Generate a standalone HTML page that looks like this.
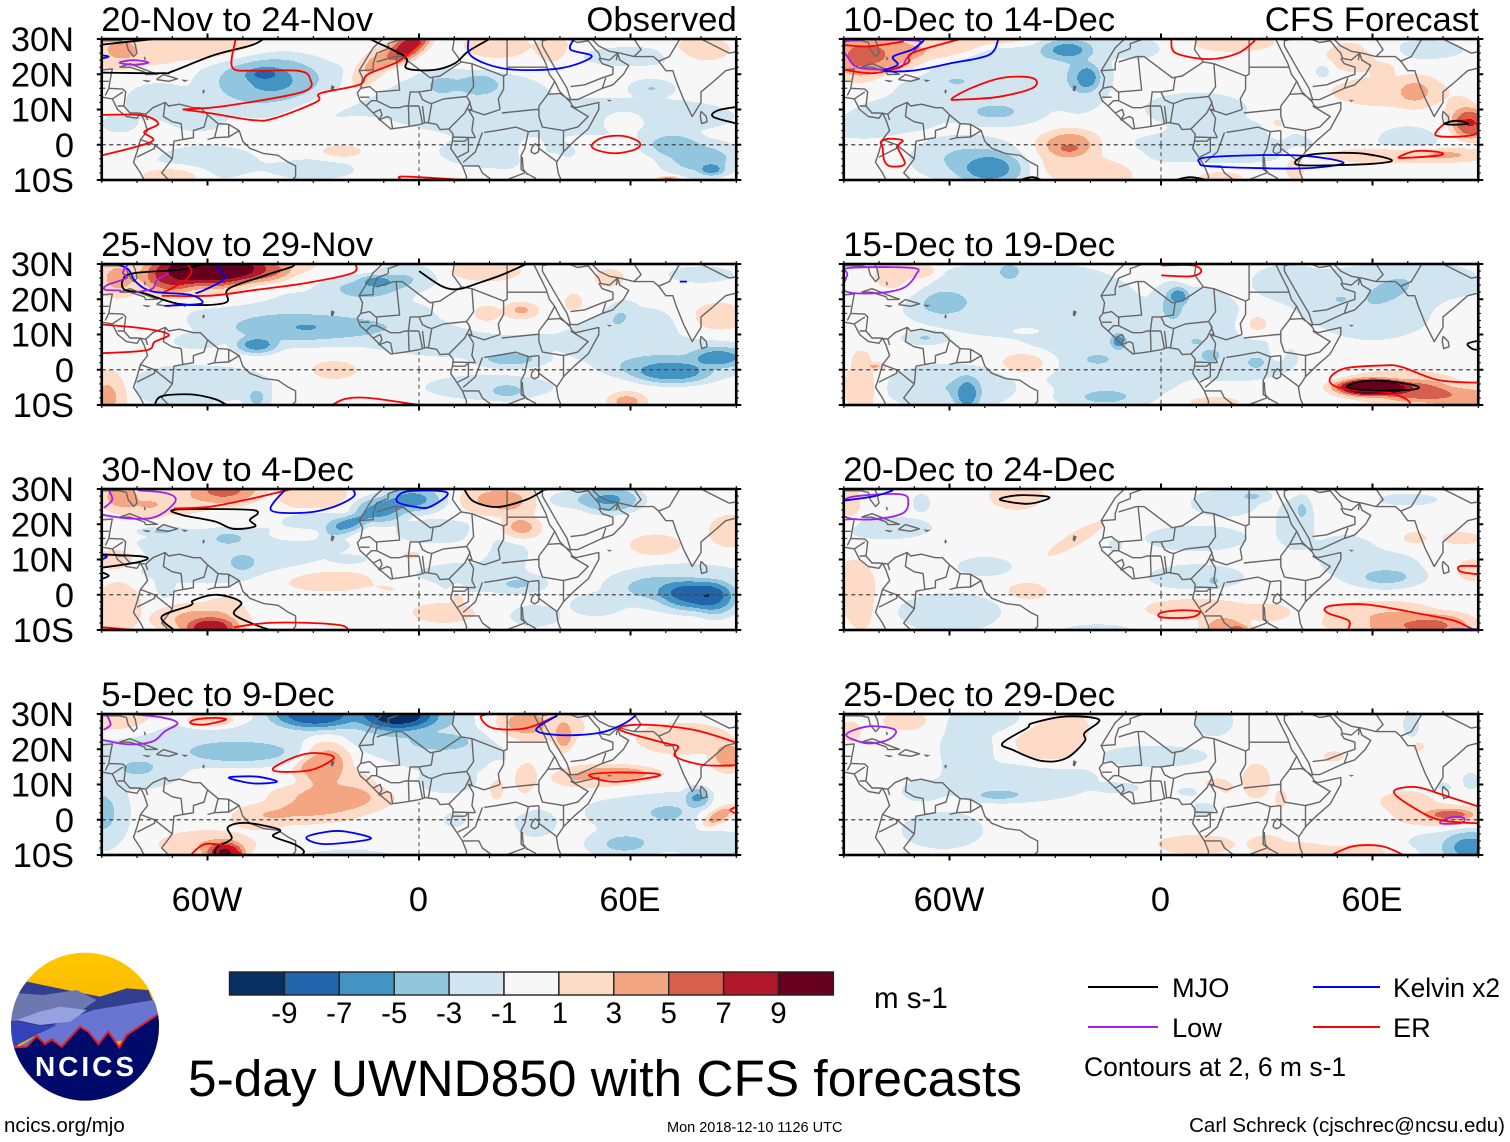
<!DOCTYPE html>
<html lang="en">
<head>
<meta charset="utf-8">
<title>5-day UWND850 with CFS forecasts</title>
<style>
html,body{margin:0;padding:0;background:#fff;width:1510px;height:1142px;overflow:hidden}
svg{display:block}
text{font-family:"Liberation Sans",Arial,sans-serif;fill:#000}
</style>
</head>
<body>
<svg id="chart" xmlns="http://www.w3.org/2000/svg" width="1510" height="1142" viewBox="0 0 1510 1142">
  <defs>
    <clipPath id="logo-clip"><circle cx="255" cy="260" r="222"/></clipPath>
    <linearGradient id="sky" x1="0" y1="0" x2="0" y2="1"><stop offset="0" stop-color="#ffc800"/><stop offset="1" stop-color="#f0a000"/></linearGradient>
  </defs>
  <g id="panels"></g>
  <g id="colorbar"></g>
  <text x="874" y="1008" font-size="29.5">m s-1</text>
  <text x="188" y="1096" font-size="51.4">5-day UWND850 with CFS forecasts</text>
  <g>
    <line x1="1088" x2="1158" y1="987" y2="987" stroke="#000" stroke-width="2"/>
    <text x="1172" y="997" font-size="27.2">MJO</text>
    <line x1="1313" x2="1380" y1="987" y2="987" stroke="#0000ff" stroke-width="2"/>
    <text x="1393" y="997" font-size="26.4">Kelvin x2</text>
    <line x1="1088" x2="1158" y1="1027" y2="1027" stroke="#a020f0" stroke-width="2"/>
    <text x="1172" y="1037" font-size="27.2">Low</text>
    <line x1="1313" x2="1380" y1="1027" y2="1027" stroke="#ff0000" stroke-width="2"/>
    <text x="1393" y="1037" font-size="27.2">ER</text>
    <text x="1084" y="1076" font-size="26.5">Contours at 2, 6 m s-1</text>
  </g>
  <text x="4" y="1132" font-size="20.5">ncics.org/mjo</text>
  <text x="667" y="1132" font-size="14.5">Mon 2018-12-10 1126 UTC</text>
  <text x="1505" y="1132" font-size="20.5" text-anchor="end">Carl Schreck (cjschrec@ncsu.edu)</text>
  <g transform="translate(0,940) scale(.33333)">
    <g clip-path="url(#logo-clip)">
      <rect x="20" y="30" width="470" height="460" fill="url(#sky)"/>
      <polygon points="80,125 200,150 300,170 380,145 445,150 490,260 20,260 50,165" fill="#313f8e"/>
      <polygon points="60,160 130,165 230,150 290,180 240,215 30,245 20,200" fill="#6d78b0"/>
      <polygon points="40,330 170,250 280,210 460,180 490,230 380,300 40,340" fill="#6876d2"/>
      <polygon points="50,240 120,215 180,200 260,210 210,245 120,255" fill="#98a1e0"/>
      <polygon points="20,240 120,258 170,255 60,310 40,325 20,300" fill="#3344bb"/>
      <polygon points="20,322 80,320 110,288 135,312 155,298 185,320 240,260 265,275 295,312 325,275 358,322 380,285 475,222 490,300 490,500 20,500" fill="#000a6b"/>
      <polyline points="40,322 80,320 110,288 135,312 155,298 185,320 240,260 265,275 295,312 325,275 358,322 380,285 475,222" fill="none" stroke="#e0202f" stroke-width="6"/>
    </g>
    <text x="258" y="408" font-size="84" font-weight="bold" text-anchor="middle" letter-spacing="9" style="fill:#fff">NCICS</text>
  </g>
</svg>
<script>
/* ---------- colour scale ---------- */
const levelEdges = [-9,-7,-5,-3,-1,1,3,5,7,9];
const bandColors = ['#053061','#2166ac','#4393c3','#92c5de','#d1e5f0','#f7f7f7','#fddbc7','#f4a582','#d6604d','#b2182b','#67001f'];

/* ---------- axis labels ---------- */
const latTicks = [30,20,10,0,-10];
const latTickLabels = ['30N','20N','10N','0','10S'];
const lonTicks = [-60,0,60];
const lonTickLabels = ['60W','0','60E'];

/* ---------- panels ---------- */
const panelTitles = ['20-Nov to 24-Nov','25-Nov to 29-Nov','30-Nov to 4-Dec','5-Dec to 9-Dec','10-Dec to 14-Dec','15-Dec to 19-Dec','20-Dec to 24-Dec','25-Dec to 29-Dec'];
const panelTags = ['Observed','','','','CFS Forecast','','',''];

/* anomaly centres: lon, lat, lon radius, lat radius, peak m/s, tilt degrees */
const anomalies1 = [
[-3,28,7,3.2,8,35],[-13,22,8,3.5,4.2,40],[-20,14,16,2.5,1.9,20],[-85,27,7,5,3.2],[-60,28,14,4,2.5],[-75,26,10,4,1.8],[22,28,10,4,1.8],[38,27,5,4,2],[80,27,8,3.5,2.2],[58,6.5,5,2.5,2],[-70,-9,8,2.5,3.2],[71,-10,3,1,6],[-22,-2,6,2,1.8],[32,-2,3,3,2.2],[35,-6,5,3,1.8],
[-46,18,11,6,-4.2],[-38,19,10,5,-3.8],[-44,20,4,1.5,-5.5],[72,0,7,3,-3.8],[80,-4,9,4,-3.8],[83,-7,3,1.5,-5.2],[60,8,28,5,-1.7],[66,16,5,2,-3],[17,17,5,2.5,-4.5],[7,17,5,3,-3],[10,15,25,6,-1.7],[20,8,25,5,-1.6],[25,-2,20,5,-1.5],[-60,-5,15,5,-1.5],[-30,-7,12,3,-1.5],[-85,6,4,2,-2.4],[-63,7,7,3,-1.7],[-35,15,30,8,-1.5],[60,25,15,3,-1.4],[-75,12,8,5,-1.6]];
const anomalies2 = [
[-58,29,12,5,12],[-70,27,8,5,8],[-45,28,8,3,6],[-85,26,6,5,3.5],[-40,30,10,3,2.5],[-60,21,14,2.5,1.5],[29,17,4,2,3.2],[19,16,3,2,3],[25,15,12,4,1.4],[19,28,10,3,2],[85,15,8,4,2],[59,-9,5,2.5,3.5],[-24,0,6,2.5,2.3],[-88,-7,5,6,3.5],[54,26,5,3,1.5],[44,19,3,3,1.6],
[-38,12,16,4,-3.5],[-46,7,5,2,-5.6],[-25,12,18,3,-3.5],[-15,23,10,3,-3.5],[-12,25,4,1.5,-5.2],[-4,26,7,3,-3],[-30,15,35,7,-1.6],[68,1,12,3,-4],[72,-1,9,2.5,-5.5],[85,3.5,7,2.5,-5.5],[78,3,18,5,-2],[26,3,8,2,-3.6],[25,-6,5,2,-3.2],[-46,-8,3,3,-3.2],[-60,-4,18,5,-1.6],[57,15,4,3,-2.8,40],[15,8,30,5,-1.4],[80,27,8,2,-2],[-63,8,6,2,-1.7],[20,-5,18,3.5,-1.6],[-70,-5,10,5,-1.5],[50,8,8,6,-1.5],[62,12,12,6,-1.5]];
const anomalies3 = [
[-55,30,9,4,5.5],[-72,27,15,4,2.8],[-85,28,5,4,3.5],[-78,24,6,3,2],[-30,28,10,4,2],[22,27,9,4,3.5],[29,19,5,3,3.5],[28,25,5,5,2],[88,18,5,4,3],[67,14,7,3,2.2],[-35,17,6,1.5,1.5],[-26,4,14,3,2.2],[7,-5,9,3,2],[-6,2,8,2,1.5],[-59,-9.5,7,3,8],[-62,-7,12,4,3.5],[-55,-3,6,3,1.5],[-85,-3,6,8,2.2],[-86,10,6,3,3],[11,-1,2,3,2],[17,15,3,4,1.5],[-2,11,4,2,1.5],
[78,0,8,3.5,-7.5],[84,-1,5,4,-5.5],[68,2,9,3,-3.8],[75,2,20,6,-2],[50,-3,7,3,-1.6],[54,27,7,3,-5.2],[-2,27,7,3,-5.5],[-11,24,6,3,-5.5],[-20,20,6,2,-5.3,20],[-28,21,8,2,-2.8],[-50,9,4,2.5,-3.2],[-54,16,5,2,-3],[-73,18,5,1,-3],[-50,14,30,5,-1.6],[28,3,6,2,-3],[-72,3,2,3,-2.8],[24,12,7,4,-1.5],[5,18,10,3,-2],[44,27,6,2,-2.2],[-20,10,4,1,-2.2],[33,-6,7,3,-1.6],[-60,8,25,5,-1.5],[15,5,20,5,-1.3]];
const anomalies4 = [
[-27,16,7,6,4.5,30],[-31,16,5,2,2.5,25],[-25,6,15,4,3.6],[-35,2,14,3,3],[-22,8,10,7,2.2],[-45,0,8,3,2],[-55,-9.5,5,3,9],[-60,-7,12,3.5,3],[30,27,7,4,4],[41,24,2.5,4,4.5],[35,26,14,7,1.6],[55,13,11,2,4.5],[52,12,16,4,1.8],[45,12,3,1,3.5],[75,23,12,4,2.8],[88,18,5,4,4],[85,1,5,2,5,30],[85,1,8,4,1.5],[-85,28,10,4,2],[-59,28,7,2,3.5],[30,15,4,8,1.8],[22,10,3,6,1.3],
[-30,30,10,3.5,-8],[-22,30,14,4,-3.5],[-6,30,9,4,-10],[5,29,8,3,-3],[7,22,7,2,-3.8],[-5,25,16,5,-2.5],[-50,19,16,3,-3.5],[-80,14,10,4,-3],[-90,2,6,8,-3.3],[58,-7,8,3,-3.2],[71,2,7,2.5,-3],[79,6,3,2.5,-5.2],[68,2,20,6,-1.7],[8,11,7,3,-2],[33,-1,6,4,-1.5],[10,0,3,2,-1.6],[-20,-10,12,1.5,-1.5],[85,-9,8,4,-2],[-70,20,25,5,-1.7],[-50,24,25,4,-1.8],[75,-5,20,4,-1.6],[10,20,20,6,-1.8]];
const anomalies5 = [
[-85,25,8,6,5.5],[-75,26,8,5,4],[-60,28,13,3,3.5,12],[-45,30,8,2,2.5],[20,29,14,3,1.6],[-26,0,8,4,4.2],[-26,-1,2.5,1,5.5],[-22,-5,15,6,1.8],[-15,-8,8,4,1.5],[70,-3,22,2,3.5],[80,-2.5,8,1.5,1.6],[88,6,5,4,7],[85,9,4,4,2.5],[72,15,6,4,3.2],[65,15,20,5,1.5],[63,21,3,2,2.5],[55,25,10,5,1.5],[38,-6,3,4,2],[33,5,3,3,1.8],[17,-9,8,2,1.5],
[-27,27,6,2.5,-5.2],[-21,19,3,3,-5.5],[-23,20,6,8,-2.8],[-40,24,10,3,-2.2],[-47,9,10,3,-3],[-48,-7,8,4,-5.5],[-55,-4,12,5,-3.2],[-85,5,8,2.5,-2.5],[-58,18,3,1,-2.8],[-50,16,25,6,-1.5],[46,21,2,2,-2],[70,1,8,4,-1.7],[18,2,10,4,-2.4],[10,10,15,5,-1.5],[-6,27,4,2,-2],[-5,-2,12,4,-1.3],[75,27,12,3,-1.4],[-40,20,25,10,-1.5],[-75,8,15,5,-1.4],[20,0,22,5,-1.7],[-15,28,15,3,-1.5]];
const anomalies6 = [
[60,-5,9,2.2,14],[72,-6,10,3,6],[85,-8,10,3,4.5],[68,-5,18,5,2],[-85,-5,5,7,2],[-85,3,3,3,1.5],[-81,1,3,1,3.2],[-38,2,7,3,2.6],[27,13,4,3,1.8],[-75,26,8,6,1.9],[-68,28,4,2,3],[15,-9,8,1.5,1.7],[-38,11,3,.7,1.6],[85,15,6,4,1.7],[33,6,2,3,1.5],
[-55,-7,3,4,-5.5],[-60,-5,14,5,-3],[-62,19,8,4,-3.3],[-43,28,4,3,-3],[-40,20,30,10,-1.8],[-20,5,15,12,-1.7],[-10,-3,14,5,-1.7],[-16,-8,10,2.5,-3],[-18,3,4,1.5,-3],[5,21,2.5,2,-5.5],[3,18,4,5,-3],[10,15,12,8,-1.7],[-12,8,2,2,-5.5],[10,8,2,1,-3],[14,4,3,2,-3.2],[27,2,3,2,-3],[20,3,18,6,-1.7],[-67,9,5,1.5,-3],[64,22,7,3,-3.2,25],[51,20,2,1,-3],[60,20,22,9,-1.7],[75,25,15,5,-1.6],[60,13,10,4,-1.5],[87,13,2,3,-1.4],[35,25,10,5,-1.4]];
const anomalies7 = [
[72,-9,14,3.5,5],[62,-5,14,3,2.8],[80,-8,8,3,3],[50,-8,5,2,1.6],[18,-9,6,3,4],[22,-10,3,1.5,5],[10,-4,14,3,2.2],[30,-5,8,3,1.5],[-38,1,6,2.5,1.8],[-87,2,6,8,2],[-85,-5,4,6,1.5],[-41,28,8,4,1.9],[-24,16,10,2,1.8,30],[88,7,4,3,2.2],[72,16,4,2,1.6],[85,16,6,2,1.6],[-88,26,3,6,1.7],
[64,5,8,2.5,-3.3],[60,8,15,5,-1.4],[-78,19,12,3,-1.8],[-60,-5,13,5,-1.9],[-50,8,7,2.5,-1.8],[26,28,4,1.5,-3],[18,26,10,4,-1.5],[40,24,2,3,-3],[38,20,6,8,-1.4],[15,4,2,1.5,-3],[10,5,15,4,-1.4],[10,16,16,4,-1.4],[-18,-10,9,1.5,-1.7],[70,27,10,2,-1.3],[52,13,8,4,-1.5],[-13,14,2,2,-1.4],[-68,26,3,3,-1.3]];
const anomalies8 = [
[-32,22,9,6,2.4],[-28,26,8,5,1.8],[82,1.5,6,1.5,5.5],[80,1,12,3,2.8],[70,5,10,4,1.4],[27,11,4,5,2],[16,9,5,3,1.7],[49,18,3,1.5,1.8],[10,-7,12,3,1.7],[30,-7,6,3,1.6],[40,-8,8,2,1.4],[55,-9,12,2,1.6],[-72,28,8,3,1.6],[-88,25,4,4,1.3],[73,20.7,2,1.5,1.4],[-72,-10,5,1.5,1.4],[34,6,2,3,1.5],
[88,-8,7,4,-5.5],[82,-7,12,4,-1.6],[-46,7,7,1.5,-3.2],[-42,10,20,5,-1.6],[-55,20,8,9,-1.5],[-48,28,12,3,-1.5],[15,28,5,4,-1.8],[-2,18,15,3,-1.6],[-62,-3,11,5,-1.7],[88,11,2,2,-2],[71,27,2,3,-2],[-12,9,6,1.5,-1.5],[10,8,6,1.5,-1.4],[12,3,3,2,-1.6],[-68,8,6,3,-1.4],[80,9,3,2,-1.3],[-35,12,15,4,-1.5]];

/* contours: wave type, closed flag, longitudes, latitudes */
const contours1 = [
['mjo',0,[-90,-75],[28.4,30]],
['mjo',0,[-92,-73,-70,-58,-47,-43],[20.5,20.3,20.8,25.5,28.4,31]],
['mjo',0,[-14,-4,-3.5,4,10,14,20],[30,25,21.7,21.2,23,26.5,30]],
['mjo',0,[92,85,83.5,91],[11,9.8,7.9,5.8]],
['er',0,[-52,-53,-47,-34.5,-31,-33,-55,-67],[30,22,21,21,19,15,11,10]],
['er',0,[-67,-59,-47,-41,-29,-28,-17,-14.5,-6,0.5],[10,8.9,7,7.5,12.2,14.6,17,20,23.6,29]],
['er',0,[-92,-79,-74,-78,-76,-92],[8.4,8.4,6,3.6,0.8,-3.5]],
['er',1,[49,52,57.7,62.4,61.8,56.3,51],[-0.2,2,2.5,0.8,-1.1,-2.4,-1.7]],
['er',0,[-5,-5,5,13],[-10,-9,-9.5,-10]],
['kelvin',0,[14,15,25,40,49,43,44],[30,25,21.5,21.7,25,27,30]],
['kelvin',0,[-91,-88,-91],[25.5,25,24.3]],
['low',1,[-85,-81,-76.7,-81],[23.3,24,23.3,22.7]]];
const contours2 = [
['mjo',1,[-36,-43,-54,-55,-67.5,-78,-83.5,-84,-81,-67.5,-59],[30,27,23,19,18.6,21.7,22.7,25.5,27.4,28.4,30]],
['mjo',0,[0,6.7,11.4,16.9,23.7,30.5],[28,23.6,22.9,24.6,27,30]],
['mjo',0,[-75,-73,-64.8,-58,-54.5],[-10,-7.5,-7,-8.3,-10]],
['er',0,[-18,-19,-32,-46,-59,-73],[30,27.4,24.6,22.7,21,21]],
['er',0,[-66,-64.5,-66.8,-73],[30,28,25,21.7]],
['er',0,[-92,-78,-71,-75,-77.5,-92],[13,11.7,10,7.9,5.5,4.6]],
['er',0,[-24.6,-21,-14.4,0],[-10,-8.3,-8,-10]],
['kelvin',0,[-85.8,-82.4,-80.4,-75.6,-64.8,-61.4,-66,-72.2],[30,28.4,25,22.2,21.2,19,18.4,18.1]],
['kelvin',0,[-58,-55.2,-60.7,-63.4],[30,26,22.7,21.7]],
['kelvin',0,[74,76],[25,25]],
['low',0,[-82.5,-84,-83,-88.5,-89,-84.5],[30,27.6,26,24,22.7,22.5]],
['low',0,[-71,-74.3,-75.6,-80.4],[27.4,25.5,23,22]]];
const contours3 = [
['mjo',1,[-69.5,-67.5,-58,-52.7,-46.5,-48,-45.8,-47,-55],[24.1,22.7,20.8,18.7,19.4,21.2,23,24,24.3]],
['mjo',0,[12.8,15.5,22.3,30.5,35.2],[30,26.5,24.9,27,29.6]],
['mjo',0,[-92,-78,-79.5,-92],[11.5,10.8,9.3,7.4]],
['mjo',0,[-90,-88,-90],[6.4,5.4,4.5]],
['mjo',0,[-69.5,-73,-64.8,-64,-57.3,-50.5,-52.5,-47,-42.3],[-10,-6.2,-3,-1.6,0,-2.1,-5.4,-8.3,-10]],
['er',0,[-36,-47,-59,-69.5],[30,27.4,25,24.5]],
['er',0,[-52.5,-43,-30.7,-22,-20],[-9.2,-8,-8,-8.7,-10]],
['er',0,[-90,-81],[-9.2,-10]],
['kelvin',0,[-37.8,-42,-32,-24,-18.5,-18.8],[30,24,23.3,25,27.9,30]],
['kelvin',1,[-3.5,-6.3,-0.8,3.3,8],[29.3,26.5,24.9,25,29]],
['kelvin',0,[-90,-88.5,-90],[11.2,10.8,10]],
['low',0,[-88.2,-87,-89.4],[30,27,24.6]],
['low',0,[-90,-83,-76.3,-72,-69,-72,-79.7],[22.7,21.7,21.7,23.6,27,28.9,29.6]]];
const contours4 = [
['low',0,[-88.7,-87.5,-89.5],[30,27,25.5]],
['low',0,[-90,-82.5,-75.6,-72.2,-68.5,-72.8,-82],[22.7,21.4,22.2,25,27.4,29,30]],
['er',1,[-64.8,-61,-54.8,-58,-63.5],[27.4,27,28.4,28.9,28.4]],
['er',1,[-41.4,-39,-30.7,-24.6,-25.3,-30.7,-36],[14.6,13.6,14.1,17,18.4,18.9,17.5]],
['kelvin',1,[-53.6,-47,-40.3,-45.7,-52.3],[11.7,10.3,10.8,12.2,12.2]],
['kelvin',1,[-32,-26.7,-13.7,-21.2,-26.7],[-5.1,-6.9,-5.4,-3.3,-3.5]],
['mjo',0,[-58,-57.3,-53.2,-54.2,-49.1,-39.6,-41.4,-35.5,-32.7,-33.2],[-10,-7.8,-5.4,-2.1,-0.9,-2.8,-4.7,-6.9,-8.8,-10]],
['er',0,[-64.8,-60.7,-53.9,-50],[-10,-6.9,-7.8,-10]],
['er',0,[19.6,17.5,21,30.5,39.3],[30,29,26,26,29.6]],
['kelvin',0,[39.3,33.2,40,50.9,57.7,61.5],[29.6,25.5,24,24.6,27,29.6]],
['er',0,[92,81,72.8,73.5,70,57,63,78,92],[15.5,15.5,17.9,20.8,21.7,25.5,27,25.5,21.2]],
['er',1,[48.2,55,67,67,56],[12.7,10.8,12.2,13.1,13.4]],
['er',0,[91,88.3,91],[4,2.7,1.4]]];
const contours5 = [
['low',1,[-89.4,-88.3,-84.9,-74.7,-72,-68.6,-70.6],[29.3,24.1,21.7,21.7,24.6,28.4,29.6]],
['er',0,[-91,-83,-73],[28.4,27.9,29.3]],
['er',0,[-92,-81.5,-72,-70.6,-57],[21.7,20.3,23.1,26,30]],
['kelvin',0,[-67.2,-70.6,-76,-74.7,-78.5,-70.6,-59.7,-48.8,-46.1],[29.6,27,25,22.7,21,21,23.1,25.5,30]],
['er',1,[-59.3,-57,-46,-36.6,-35.5,-39.3,-46,-54],[13.1,12.8,13.6,16,18.4,19.3,18.8,16]],
['er',0,[2.9,4.2,13.7,21.9,26.7],[30,26,24.3,26,29.6]],
['er',1,[-79.5,-77.4,-73.3,-74.7,-72.7,-76.7,-78.5,-79],[0.8,1.7,1.2,-0.7,-5.4,-6.1,-4.5,-0.7]],
['kelvin',1,[11,13.7,38.2,51.8,39.6,15.1],[-5.2,-3.5,-3,-5.1,-6.7,-6.2]],
['mjo',1,[38,42.3,55.9,65.4,60,42.3],[-5.1,-2.8,-2.4,-4.3,-5.4,-5.9]],
['er',1,[67.5,72.2,79,79,69.5],[-3.5,-1.8,-2.1,-3,-3.7]],
['er',1,[78,81.8,88.6,90,85.9,79],[3.6,6.5,6.5,3.6,2.4,2.4]],
['mjo',1,[80.4,83.8,87.2,83.1],[6,6.8,6,5.7]],
['mjo',0,[-40,-36.6,-33.9],[-10,-9.2,-10]],
['mjo',0,[4.2,8.3,13],[-10,-9.2,-10]]];
const contours6 = [
['low',1,[-89,-88.3,-70.6,-69.5,-73.3,-81.5,-89.7],[27,28.9,28.9,27,23.1,21.7,22.4]],
['er',0,[0.1,9,11.4,8.3,0.1],[29.6,29.6,27.9,26.5,26.8]],
['er',0,[92,79,68.2,62.7,51.8,47.8,51.8,64,69.5,70.9],[-3.7,-3,0.8,1.2,0.3,-3,-5.4,-6.4,-8.3,-10]],
['mjo',1,[52.9,55.9,62.7,72.2,71.5,60],[-5,-3.5,-3.1,-4.5,-5.6,-5.9]],
['mjo',0,[91,87,88.6,91],[8.4,7.4,5.8,5.8]]];
const contours7 = [
['low',1,[-89.7,-81.5,-73.3,-71.7,-73.3,-81.5,-89.7],[27,28.4,28.4,26.5,23.1,21.4,22.2]],
['kelvin',0,[-90,-81.5,-76],[26.7,27.9,29.6]],
['mjo',1,[-45.7,-40.7,-32.5,-32.5,-38],[27,28.2,27.9,27,25.8]],
['er',1,[0,5.6,11,8.3,0.1],[-5.1,-4.4,-4.8,-6.4,-6.4]],
['er',0,[89,87.2,83,73.6,58.6,49.1,46.4,47.8,53.2,53.2],[-10,-9.2,-7.3,-5.4,-2.8,-3,-4,-5.4,-7.3,-9.7]],
['er',0,[91,84.8,85.2,91],[8.1,8.1,6.5,5.7]],
['kelvin',0,[82,90],[-9.8,-9.8]]];
const contours8 = [
['mjo',1,[-45,-38,-36.5,-27,-17.6,-21.7,-21.7,-27,-34,-42],[21.7,26,27.4,29.3,28.4,24.6,22.2,17.4,16.7,19.8]],
['low',1,[-89.3,-82.9,-75.4,-77.4,-83.5],[24.1,26.5,25.5,22.7,21.7]],
['low',1,[79.7,83.1,85.9,85.2,79.7],[-0.2,0.8,0.5,-0.9,-1.1]],
['er',0,[92,80.4,72.2,66,72.2,79.7,92],[3.1,6.9,9.3,7.9,3.1,-0.2,-1.1]],
['er',0,[48.4,54.5,62.7,68.8],[-10,-7.5,-7.5,-10]]];

const panelAnomalies = [anomalies1,anomalies2,anomalies3,anomalies4,anomalies5,anomalies6,anomalies7,anomalies8];
const panelContours = [contours1,contours2,contours3,contours4,contours5,contours6,contours7,contours8];
const waveColors = {mjo:'#000000',kelvin:'#0000ff',low:'#a020f0',er:'#ff0000'};

/* ---------- map outlines as flat lon,lat lists ---------- */
const coastLines = [
[-91,29.5,-85,29.5,-83,29,-82.5,27,-81,25,-80,26,-80.5,28.5,-81.5,30.5],
[-90.5,21.2,-87,21.5,-87.5,19,-88,16,-84,15.8,-83.2,15,-83.7,11,-82,9,-80,9,-77.5,8.7,-75.5,10.5,-72,12,-71,11,-68,11.5,-64,10.5,-62,10.5,-60,8.5,-57,6,-54,5.8,-51,4,-50,1,-48,-1,-44,-2.5,-40,-3,-37,-5,-35,-6,-35,-9,-37,-11],
[-91,13.7,-87,13,-85.5,10,-83,8,-80,7.5,-79,9,-78,7,-77,4,-79,1.5,-80,-2,-81,-5,-79,-8,-77,-12],
[-9.8,30.5,-13,27.5,-17,21,-16,19,-16.5,16,-17.5,14.7,-16.7,12.5,-15,11,-13,9,-11,7,-8,4.5,-4,5,0,5.7,2,6.3,5,5.8,6,4.3,8.5,4.5,9.7,3,9.5,1,9,-1,11,-4,12.3,-6,13.5,-9,13,-12],
[32.5,30,34,27,36,23,37,20,38.5,18,40,15,43,12,43.5,11,44.5,10.5,51,12,51,10,48,4.5,44,1,41,-2,39,-5,39.5,-8,40.5,-10.5],
[35,30,35,28,39,21,42,16,43,12.8,45,12.8,52,16,55,17,58,20,59.5,22.5,57,24,56.3,26,54,24,51.5,24.5,51,26,50,27,48,29.5,48,30.5],
[48.5,30.5,51,28,54,26.5,57,26,61,25,66.5,25,68,23.7,70,21,72,21,73,18,75,13,77.5,8,80,12,80,15,83,17.5,87,21,91,22],
[80,9.5,81.5,8,81.7,6.5,80.2,6,79.8,8,80,9.5],
[-85,22,-82,23,-77,21,-74.2,20,-77.5,19.9,-78,20.7,-82,22,-85,22],
[-74.5,18.5,-72.5,19.9,-68.5,18.7,-71,18,-74.5,18.5],
[32,-0.8,33,0.3,34,-0.5,33.9,-2,32.8,-2.6,31.8,-2,32,-0.8],
[29.3,-3.5,29.4,-5,29.6,-7,30.8,-8.5],[34.5,-9.7,34.6,-11,34.8,-12]];
const borderLines = [
[25,31,25,22],[25,22,36.5,22],[25,22,25,20,24,19.5,24,15.7],[24,19.5,15,23],[15,23,12,23.5],[10,30,9.5,27,12,23.5],[12,23.5,6,19.5,4.2,19.2,3.2,19,-4.8,25],[-4.8,25,-6.5,25,-5.5,15.5,-12,15,-12,14.8],[-17,21,-13,21.3,-13,23,-12,26,-8.7,27.3],[-12,23.5,-7,25,-4.8,25],[-8.7,27.3,-8.7,28.7,-5,30,-2,32],[-16.5,16,-14,16.5,-12,14.8],[-12,14.8,-12,12.5,-8,10.5,-5.5,10.5,-4,11,-3,11,-2.5,15,0,15,3.5,15.5,4,19],
[3.6,11.7,7,13,13.5,13.7],[15,23,15.5,16.5,13.5,13.7],[24,15.7,22.5,13,23,10],[14,10,18.5,8.5,23,10],[13.5,13.7,14.5,12,13,9,9,5,8.5,4.5],[14,13,15,10,14,10,15.5,7.5],[15.5,7.5,15,4,16,2],[9.7,2.2,16,2],[9.7,1,13,1,14,2,14,-2,11,-3.5],[18.5,3.5,22,4,27.5,5],[12.5,-5,16,-2,18,3.5],[23.5,9,33,10,34,10],[34,10,34,8,35,5],[36.5,14.3,34,11,34,10],[36.5,14.3,38.5,18],[43,12.5,40,14.5,36.5,14.3],[43,11,48,8,45,5,41,4],[35,5,41,4],[41,4,41,-2],[34,4,34,-1],[31,3.7,34,4],[27.5,5,31,3.7],[31,3.7,30,-1],[34,-1,39,-4.7],[30,-1,29,-3,29,-7,30.7,-8.2],[30.7,-8.2,33,-9.5,34,-11],[34.9,-11.5,40.4,-10.5],[12.3,-6,17,-6,18,-8,22,-11],[22,-11,30,-8],[-3,11,-2.8,5],[0,11,1,6],[-3,11,0,11],[3.6,11.7,2.7,6.4],[1,11,1.6,6.2],[3.6,11.7,2.5,12,1,12.8,0,15],[-15,11,-13.5,12.5,-12,12.5],[-11.5,7,-9,8,-8,7.5,-7.5,4.5],[-13,9,-11,10,-10.5,8.5,-11.5,7],[-16.7,13.5,-14,13.5],
[-72,12,-72.5,8,-70,6.5,-67.5,6,-67,1.5],[-70,-4,-69.5,1,-67,1.5],[-60,8.5,-61,5,-64,4,-64,2,-67,1.5],[-57,6,-58,2],[-54,5.8,-54,2.2],[-60,1.5,-58,2,-54,2.2,-51,4],[-80,-3.5,-75,-1,-75,0,-79,1.5],[-70,-4,-73,-8,-70,-11],[-75,0,-70,-4],[-77.5,8.7,-77,7],[-70,-11,-65,-10],[-83.7,11,-85.5,11],[-88,16,-89,14],[-84,15,-87,13],
[48,30,46,31],[61,25,63,27,61,30],[68,23.7,71,25,74,30],[80,30,88,26,91,26.5],[43,16.5,47,17,52,19,55,20,55,22,52,23,51,24.5],[52,16,53,19],[35,29.5,37,30],[48,29.5,45,29,40,31],[56.3,26,56,24],[-91,18,-88,18],[-91,16,-89,16]];
const islandShapes = [
[-78.3,18.3,-76.3,18.1,-77,17.8],
[-67.2,18.4,-65.7,18.3,-66.5,17.9],
[-61.2,15.6,-60.8,15.2,-61.2,14.6,-61.4,15],
[-78,25,-77.5,24.4,-77.8,24],
[-24.8,16.8,-24,16.4,-24.5,15.2,-25,15.5],
[53.5,12.7,54.5,12.6,54,12.3]];

/* ---------- axis functions ---------- */
const lonScale = 3.525;
const latScale = 3.525;
const leftZero = 419;
const rightZero = 1161;
const panelTops = [39,264,489,714];
function xOf(p,lon){return p.x0+lon*lonScale;}
function yOf(p,lat){return p.top+(30-lat)*latScale;}
function lonOf(p,x){return (x-p.x0)/lonScale;}
function latOf(p,y){return 30-(y-p.top)/latScale;}

const NS='http://www.w3.org/2000/svg';
function make(tag,parent){const el=document.createElementNS(NS,tag);parent.appendChild(el);return el;}

function bandIndex(v){let i=0;while(i<levelEdges.length&&v>=levelEdges[i])i++;return i;}

/* flat-topped kernels, combined by sign with a root-sum-square so overlaps do not pile up */
const positiveGain = 1.12;
const negativeGain = 1.3;
function fieldAt(list,lon,lat){
  let pos=0,neg=0;
  for(const b of list){
    const dx=lon-b[0],dy=lat-b[1];
    let u=dx,w=dy;
    if(b[5]){const t=b[5]*Math.PI/180,c=Math.cos(t),n=Math.sin(t);u=dx*c+dy*n;w=-dx*n+dy*c;}
    const gain=b[4]>0?positiveGain:negativeGain;
    const ru=b[2]*gain,rw=b[3]*gain;
    const e=(u*u)/(ru*ru)+(w*w)/(rw*rw);
    if(e<6){
      const v=b[4]*Math.exp(-e*Math.sqrt(e));
      if(v>0)pos+=v*v;else neg+=v*v;
    }
  }
  return Math.sqrt(pos)-Math.sqrt(neg);
}

function smoothPath(pts,closed){
  const n=pts.length;
  if(n<3)return 'M'+pts.map(q=>q[0].toFixed(1)+' '+q[1].toFixed(1)).join('L')+(closed?'Z':'');
  let d='M'+pts[0][0].toFixed(1)+' '+pts[0][1].toFixed(1);
  const at=i=>closed?pts[(i+n)%n]:pts[Math.max(0,Math.min(n-1,i))];
  const last=closed?n:n-1;
  for(let i=0;i<last;i++){
    const a=at(i-1),b=at(i),c=at(i+1),e=at(i+2);
    d+='C'+(b[0]+(c[0]-a[0])/6).toFixed(1)+' '+(b[1]+(c[1]-a[1])/6).toFixed(1)+' '+(c[0]-(e[0]-b[0])/6).toFixed(1)+' '+(c[1]-(e[1]-b[1])/6).toFixed(1)+' '+c[0].toFixed(1)+' '+c[1].toFixed(1);
  }
  return d+(closed?'Z':'');
}

function flatPath(p,flat,close){
  let d='';
  for(let i=0;i<flat.length;i+=2){d+=(i?'L':'M')+xOf(p,flat[i]).toFixed(1)+' '+yOf(p,flat[i+1]).toFixed(1);}
  return d+(close?'Z':'');
}

function drawPanel(root,index){
  const col=index<4?0:1,row=index%4;
  const p={x0:col?rightZero:leftZero,top:panelTops[row]};
  const left=xOf(p,-90),right=xOf(p,90),top=yOf(p,30),bottom=yOf(p,-10);

  const g=make('g',root);
  
  

  const defs=make('defs',g);
  const clip=make('clipPath',defs);
  clip.setAttribute('id','clip'+index);
  const clipRect=make('rect',clip);
  clipRect.setAttribute('x',left);
  clipRect.setAttribute('y',top);
  clipRect.setAttribute('width',right-left);
  clipRect.setAttribute('height',bottom-top);

  const body=make('g',g);
  body.setAttribute('clip-path','url(#clip'+index+')');
  
  

  const bg=make('rect',body);
  bg.setAttribute('x',left);
  bg.setAttribute('y',top);
  bg.setAttribute('width',right-left);
  bg.setAttribute('height',bottom-top);
  bg.setAttribute('fill',bandColors[5]);
  
  

  /* shaded wind anomaly, merged into one path per colour band */
  const list=panelAnomalies[index];
  const runs=bandColors.map(()=>[]);
  const step=1;
  for(let y=Math.floor(top);y<bottom;y+=step){
    const lat=latOf(p,y+step/2);
    let start=Math.floor(left),cur=-1;
    for(let x=Math.floor(left);x<=right+step;x+=step){
      const k=x>right?-2:bandIndex(fieldAt(list,lonOf(p,x+step/2),lat));
      if(k!==cur){
        if(cur>=0&&cur!==5)runs[cur].push('M'+start+' '+y+'h'+(x-start)+'v'+step+'h'+(start-x)+'z');
        cur=k;start=x;
      }
    }
  }
  runs.forEach((r,k)=>{
    if(!r.length)return;
    const band=make('path',body);
    band.setAttribute('d',r.join(''));
    band.setAttribute('fill',bandColors[k]);
    band.setAttribute('shape-rendering','crispEdges');
    
    
  });

  /* land outlines */
  let outline='';
  coastLines.concat(borderLines).forEach(f=>{outline+=flatPath(p,f,false);});
  const land=make('path',body);
  land.setAttribute('d',outline);
  land.setAttribute('fill','none');
  land.setAttribute('stroke','#666');
  land.setAttribute('stroke-width','1.4');
  land.setAttribute('stroke-linejoin','round');
  
  

  let isl='';
  islandShapes.forEach(f=>{isl+=flatPath(p,f,true);});
  const islands=make('path',body);
  islands.setAttribute('d',isl);
  islands.setAttribute('fill','#666');
  islands.setAttribute('stroke','#666');
  islands.setAttribute('stroke-width','.6');
  
  

  /* zero lines */
  const eq=make('line',body);
  eq.setAttribute('x1',left);
  eq.setAttribute('x2',right);
  eq.setAttribute('y1',yOf(p,0));
  eq.setAttribute('y2',yOf(p,0));
  eq.setAttribute('stroke','#444');
  eq.setAttribute('stroke-width','1.2');
  eq.setAttribute('stroke-dasharray','4 3.5');
  
  
  const pm=make('line',body);
  pm.setAttribute('x1',xOf(p,0));
  pm.setAttribute('x2',xOf(p,0));
  pm.setAttribute('y1',yOf(p,0));
  pm.setAttribute('y2',bottom);
  pm.setAttribute('stroke','#444');
  pm.setAttribute('stroke-width','1');
  pm.setAttribute('stroke-dasharray','4 3.5');
  
  
  const pm2=make('line',body);
  pm2.setAttribute('x1',xOf(p,0));
  pm2.setAttribute('x2',xOf(p,0));
  pm2.setAttribute('y1',yOf(p,0));
  pm2.setAttribute('y2',yOf(p,5));
  pm2.setAttribute('stroke','#444');
  pm2.setAttribute('stroke-width','1');
  pm2.setAttribute('stroke-dasharray','4 3.5');
  
  

  /* wave contours */
  panelContours[index].forEach(c=>{
    const pts=c[2].map((lon,i)=>[xOf(p,lon),yOf(p,c[3][i])]);
    const line=make('path',body);
    line.setAttribute('d',smoothPath(pts,!!c[1]));
    line.setAttribute('fill','none');
    line.setAttribute('stroke',waveColors[c[0]]);
    line.setAttribute('stroke-width','1.8');
    line.setAttribute('stroke-linejoin','round');
    
    
  });

  /* ticks */
  let tk='',mn='';
  for(let lon=-90;lon<=90;lon+=10){
    const x=xOf(p,lon),major=lon%60===0;
    const len=major?5.5:3;
    const s='M'+x.toFixed(1)+' '+top+'v'+(-len)+'M'+x.toFixed(1)+' '+bottom+'v'+len;
    if(major)tk+=s;else mn+=s;
  }
  for(let lat=-10;lat<=30;lat+=2){
    const y=yOf(p,lat),major=lat%10===0;
    const len=major?5:2.5;
    const s='M'+left.toFixed(1)+' '+y.toFixed(1)+'h'+(-len)+'M'+right.toFixed(1)+' '+y.toFixed(1)+'h'+len;
    if(major)tk+=s;else mn+=s;
  }
  const majorTicks=make('path',g);
  majorTicks.setAttribute('d',tk);
  majorTicks.setAttribute('stroke','#000');
  majorTicks.setAttribute('stroke-width','2');
  
  
  const minorTicks=make('path',g);
  minorTicks.setAttribute('d',mn);
  minorTicks.setAttribute('stroke','#000');
  minorTicks.setAttribute('stroke-width','1.1');
  
  

  const frame=make('rect',g);
  frame.setAttribute('x',left);
  frame.setAttribute('y',top);
  frame.setAttribute('width',right-left);
  frame.setAttribute('height',bottom-top);
  frame.setAttribute('fill','none');
  frame.setAttribute('stroke','#000');
  frame.setAttribute('stroke-width','2.6');
  
  

  const title=make('text',g);
  title.setAttribute('x',left-0.5);
  title.setAttribute('y',top-8);
  title.setAttribute('font-size','34.7');
  title.textContent=panelTitles[index];
  
  

  if(panelTags[index]){
    const tag=make('text',g);
    tag.setAttribute('x',right+0.5);
    tag.setAttribute('y',top-8);
    tag.setAttribute('font-size','34.7');
    tag.setAttribute('text-anchor','end');
    tag.textContent=panelTags[index];
    
    
  }

  if(col===0){
    latTicks.forEach((lat,i)=>{
      const t=make('text',g);
      t.setAttribute('x',74);
      t.setAttribute('y',yOf(p,lat)+12);
      t.setAttribute('font-size','34.4');
      t.setAttribute('text-anchor','end');
      t.textContent=latTickLabels[i];
      
      
    });
  }
  if(row===3){
    lonTicks.forEach((lon,i)=>{
      const t=make('text',g);
      t.setAttribute('x',xOf(p,lon)-0.5);
      t.setAttribute('y',bottom+56);
      t.setAttribute('font-size','34.4');
      t.setAttribute('text-anchor','middle');
      t.textContent=lonTickLabels[i];
      
      
    });
  }
}

function drawColorbar(){
  const root=document.getElementById('colorbar');
  const x0=229.5,w=54.9,y0=972,h=23;
  bandColors.forEach((c,i)=>{
    const box=make('rect',root);
    box.setAttribute('x',x0+i*w);
    box.setAttribute('y',y0);
    box.setAttribute('width',w);
    box.setAttribute('height',h);
    box.setAttribute('fill',c);
    box.setAttribute('stroke','#222');
    box.setAttribute('stroke-width','1.4');
    
    
  });
  levelEdges.forEach((v,i)=>{
    const t=make('text',root);
    t.setAttribute('x',x0+(i+1)*w+(v===1?1:0));
    t.setAttribute('y',1023);
    t.setAttribute('font-size','29.5');
    t.setAttribute('text-anchor','middle');
    t.textContent=String(v);
    
    
  });
}

const panelsRoot=document.getElementById('panels');
panelTitles.forEach((_,i)=>drawPanel(panelsRoot,i));
drawColorbar();
</script>
</body>
</html>
